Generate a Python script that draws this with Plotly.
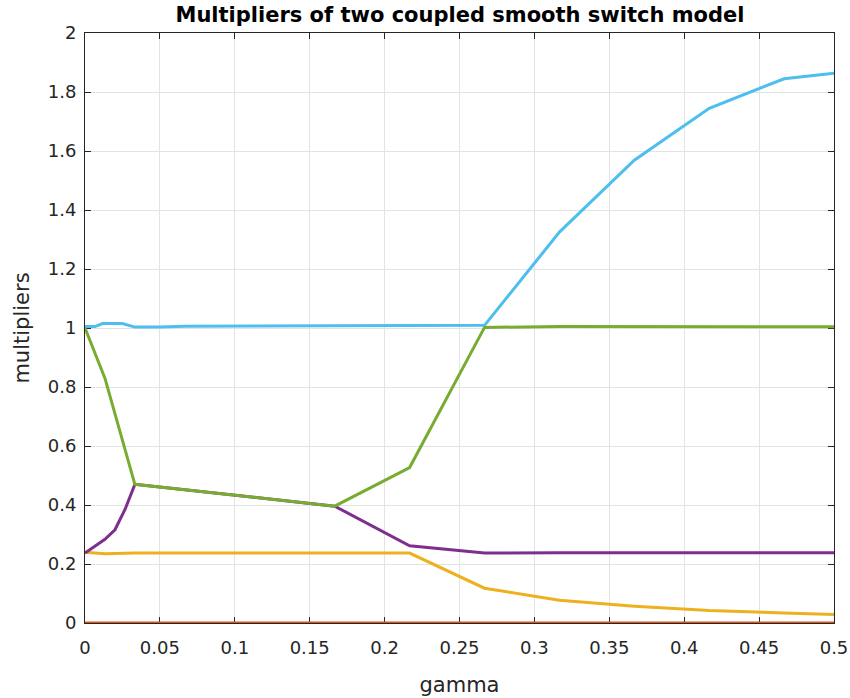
import plotly.graph_objects as go

# gamma values (x) and multipliers for each series
gamma_red = [0, 0.5]
mult_red = [0.0, 0.0]

gamma_yellow = [0, 0.0133, 0.0333, 0.1167, 0.1667, 0.2167, 0.2667, 0.3167, 0.3667, 0.4167, 0.4667, 0.5]
mult_yellow = [0.240, 0.235, 0.237, 0.237, 0.237, 0.237, 0.118, 0.077, 0.057, 0.042, 0.034, 0.029]

gamma_purple = [0, 0.0067, 0.0133, 0.02, 0.0267, 0.0333, 0.1667, 0.2167, 0.2667, 0.3167, 0.3667, 0.4167, 0.4667, 0.5]
mult_purple = [0.237, 0.262, 0.284, 0.316, 0.385, 0.470, 0.396, 0.262, 0.237, 0.238, 0.238, 0.238, 0.238, 0.238]

gamma_green = [0, 0.0067, 0.0133, 0.0333, 0.1667, 0.2167, 0.2667, 0.3167, 0.3667, 0.4167, 0.4667, 0.5]
mult_green = [1.0, 0.915, 0.830, 0.470, 0.396, 0.527, 1.002, 1.005, 1.005, 1.005, 1.005, 1.004]

gamma_blue = [0, 0.0067, 0.0117, 0.02, 0.025, 0.0333, 0.05, 0.0667, 0.1167, 0.1667, 0.2167, 0.2667, 0.3167, 0.3667, 0.4167, 0.4667, 0.5]
mult_blue = [1.005, 1.005, 1.015, 1.015, 1.015, 1.003, 1.003, 1.006, 1.007, 1.009, 1.009, 1.009, 1.325, 1.569, 1.745, 1.845, 1.864]

x_ticks = [0, 0.05, 0.1, 0.15, 0.2, 0.25, 0.3, 0.35, 0.4, 0.45, 0.5]
x_tick_labels = ["0", "0.05", "0.1", "0.15", "0.2", "0.25", "0.3", "0.35", "0.4", "0.45", "0.5"]
y_ticks = [0, 0.2, 0.4, 0.6, 0.8, 1.0, 1.2, 1.4, 1.6, 1.8, 2.0]
y_tick_labels = ["0", "0.2", "0.4", "0.6", "0.8", "1", "1.2", "1.4", "1.6", "1.8", "2"]

series = [
    (gamma_blue, mult_blue, "#4DBEEE"),
    (gamma_red, mult_red, "#D95319"),
    (gamma_yellow, mult_yellow, "#EDB120"),
    (gamma_purple, mult_purple, "#7E2F8E"),
    (gamma_green, mult_green, "#77AC30"),
]

fig = go.Figure()
for gx, gy, col in series:
    fig.add_trace(go.Scatter(x=gx, y=gy, mode="lines",
                             line=dict(color=col, width=3), showlegend=False))

font = "DejaVu Sans, Liberation Sans, Arial, sans-serif"
axis_common = dict(
    showline=True, linecolor="#262626", linewidth=1, mirror="ticks",
    ticks="inside", ticklen=6, tickcolor="#262626", tickwidth=1,
    showgrid=True, gridcolor="#E3E3E3", gridwidth=1, zeroline=False,
    tickfont=dict(family=font, size=18, color="#262626"),
    automargin=False, layer="below traces",
)

fig.update_layout(
    width=850, height=698,
    margin=dict(l=85, r=16, t=33, b=75),
    paper_bgcolor="white", plot_bgcolor="white",
    title=dict(text="<b>Multipliers of two coupled smooth switch model</b>",
               x=460 / 850, xanchor="center", y=1 - 15 / 698, yanchor="middle",
               font=dict(family=font, size=21, color="black")),
    xaxis=dict(range=[0, 0.5], tickvals=x_ticks, ticktext=x_tick_labels,
               ticklabelstandoff=8,
               title=dict(text="gamma", font=dict(family=font, size=21, color="#262626"), standoff=20),
               **axis_common),
    yaxis=dict(range=[0, 2], tickvals=y_ticks, ticktext=y_tick_labels,
               ticklabelstandoff=4,
               title=dict(text="multipliers", font=dict(family=font, size=21, color="#262626"), standoff=12),
               **axis_common),
)

fig.write_html("out.html")
